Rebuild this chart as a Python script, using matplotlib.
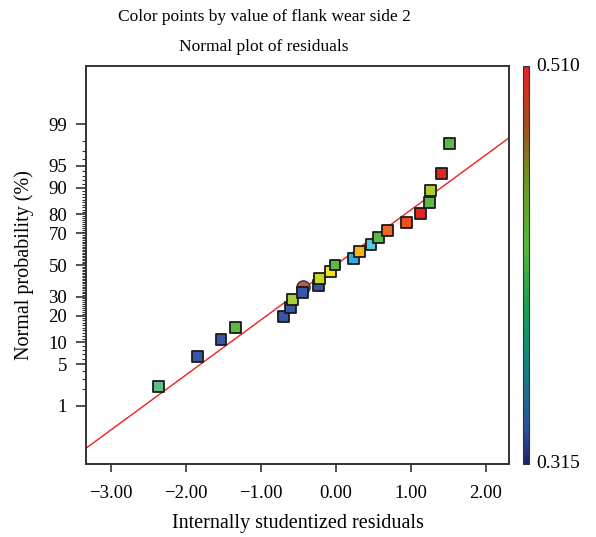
import matplotlib
matplotlib.use("Agg")
import matplotlib.pyplot as plt
from matplotlib.colors import LinearSegmentedColormap, Normalize
from matplotlib.cm import ScalarMappable
from statistics import NormalDist

# residuals (x) and normal probability in percent (y), sorted
residuals = [-2.365, -1.84, -1.53, -1.34, -0.70, -0.60, -0.58, -0.445, -0.23, -0.22,
             -0.07, -0.01, 0.235, 0.32, 0.47, 0.57, 0.69, 0.94, 1.13, 1.25, 1.26, 1.41, 1.52]
prob_pct = [2.2, 6.5, 10.9, 15.2, 19.6, 23.9, 28.3, 32.6, 37.0, 41.3, 45.7, 50.0,
            54.3, 58.7, 63.0, 67.4, 71.7, 76.1, 80.4, 84.8, 89.1, 93.5, 97.8]
# flank wear side 2 of each run
wear = [0.383, 0.315, 0.315, 0.403, 0.315, 0.315, 0.428, 0.315, 0.315, 0.436,
        0.448, 0.403, 0.354, 0.467, 0.362, 0.403, 0.487, 0.494, 0.510, 0.403,
        0.428, 0.510, 0.403]

# highlighted point (circle)
sel_residual = [-0.43]
sel_pct = [36.0]

wear_min, wear_max = 0.315, 0.510
line_slope, line_intercept = 0.91, 0.0

y_major = [1, 5, 10, 20, 30, 50, 70, 80, 90, 95, 99]
x_major = [-3, -2, -1, 0, 1, 2]

nd = NormalDist()
def z(p):
    return nd.inv_cdf(p / 100.0)

plt.rcParams['font.family'] = ['Liberation Serif', 'DejaVu Serif']

pts_cmap = LinearSegmentedColormap.from_list("pts", [
    (0.00, "#3656a6"), (0.20, "#2caee3"), (0.24, "#5cc6e0"), (0.35, "#5cbf80"),
    (0.45, "#5db845"), (0.58, "#a8cd36"), (0.62, "#c8d622"), (0.68, "#f0e21a"),
    (0.78, "#f5b514"), (0.88, "#f26a22"), (0.92, "#f0501f"), (1.00, "#e52421")])
bar_cmap = LinearSegmentedColormap.from_list("bar", [
    (0.00, "#1c2466"), (0.08, "#2f4da0"), (0.25, "#12857f"), (0.40, "#1aa050"),
    (0.55, "#58b83a"), (0.70, "#6a9a28"), (0.85, "#a05020"), (1.00, "#e8202a")])

fig = plt.figure(figsize=(5.96, 5.37), dpi=100)
ax = fig.add_axes([0.1443, 0.136, 0.7097, 0.741])

xlo, xhi = -3.33, 2.31
ax.set_xlim(xlo, xhi)
ax.set_ylim(z(0.05), z(99.95))

ax.plot([xlo, xhi], [line_intercept + line_slope * xlo, line_intercept + line_slope * xhi],
        color="#f02020", lw=1.0, zorder=2)

ax.plot(sel_residual, [z(p) for p in sel_pct], 'o', ms=9.5, mfc="#b85a5a",
        mec="#333333", mew=1.0, zorder=3)

norm = Normalize(wear_min, wear_max)
ax.scatter(residuals, [z(p) for p in prob_pct], c=wear, cmap=pts_cmap, norm=norm,
           marker='s', s=62, edgecolors="#1a1a1a", linewidths=1.3, zorder=4)

ax.set_xticks(x_major)
ax.set_xticklabels(["\u22123.00", "\u22122.00", "\u22121.00", "0.00", "1.00", "2.00"])
ax.set_yticks([z(p) for p in y_major])
ax.set_yticklabels([str(p) for p in y_major])
minor = [p for p in range(1, 100) if p not in y_major]
ax.set_yticks([z(p) for p in minor], minor=True)

ax.tick_params(axis='x', which='major', direction='out', length=6, width=1.2,
               color="#333333", labelsize=13.5, pad=9)
ax.tick_params(axis='y', which='major', direction='out', length=7.5, width=1.2,
               color="#333333", labelsize=13.5, pad=6)
ax.tick_params(axis='y', which='minor', direction='out', length=3, width=0.8, color="#333333")
for s in ax.spines.values():
    s.set_linewidth(1.4)
    s.set_color("#333333")

ax.set_xlabel("Internally studentized residuals", fontsize=14.5)
ax.set_ylabel("Normal probability (%)", fontsize=14.5)
ax.xaxis.set_label_coords(0.5, -0.126)
ax.yaxis.set_label_coords(-0.124, 0.5)

fig.text(0.443, 0.968, "Color points by value of flank wear side 2", ha='center', va='center', fontsize=12.5)
fig.text(0.443, 0.913, "Normal plot of residuals", ha='center', va='center', fontsize=12.5)

cax = fig.add_axes([0.8775, 0.136, 0.0101, 0.741])
cb = fig.colorbar(ScalarMappable(norm=norm, cmap=bar_cmap), cax=cax)
cb.set_ticks([])
cb.outline.set_linewidth(0.8)
cb.outline.set_edgecolor("#333333")
cax.text(2.2, 1.0, "0.510", transform=cax.transAxes, ha='left', va='center', fontsize=14)
cax.text(2.2, 0.0, "0.315", transform=cax.transAxes, ha='left', va='center', fontsize=14)

fig.savefig("out.png", dpi=100)
